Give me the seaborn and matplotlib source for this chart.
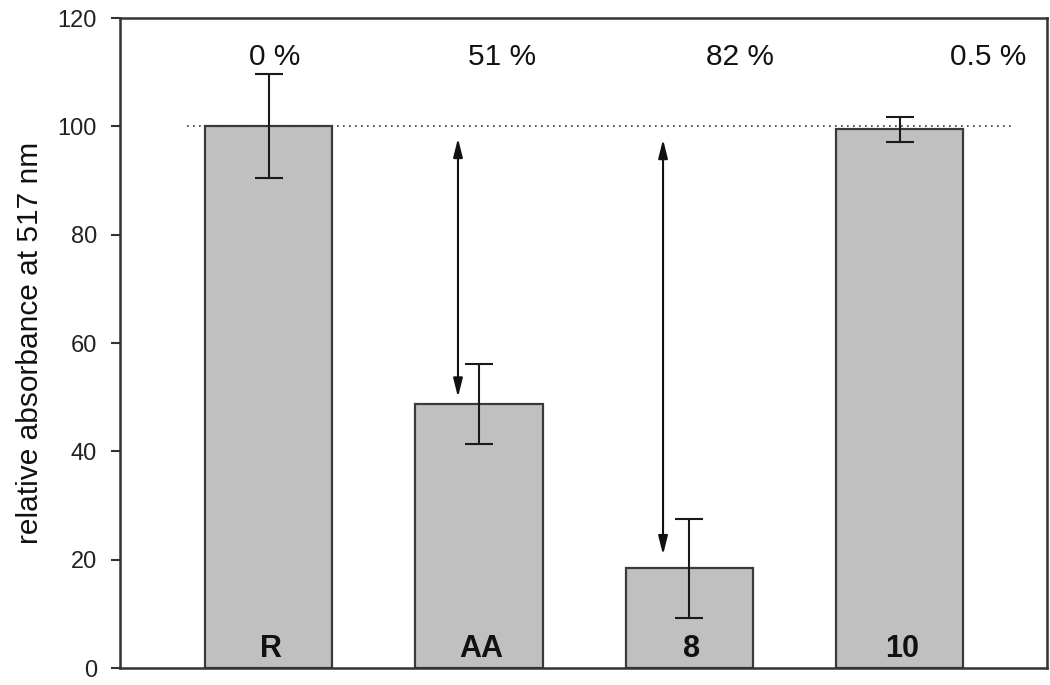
import matplotlib
matplotlib.use("Agg")
import matplotlib.pyplot as plt
import seaborn as sns
import numpy as np
import pandas as pd

# ---- data ----
categories = ["R", "AA", "8", "10"]
values = [100.0, 48.7, 18.5, 99.6]
err_upper = [109.6, 56.1, 27.5, 101.7]
err_lower = [90.4, 41.4, 9.2, 97.1]
percent_labels = ["0 %", "51 %", "82 %", "0.5 %"]
percent_x = [0.03, 1.11, 2.24, 3.42]
arrow_x = [0.90, 1.875]
arrow_top = [97.8, 97.6]
arrow_bottom = [50.0, 20.9]
ref_level = 100
yticks = [0, 20, 40, 60, 80, 100, 120]

sns.set_theme(style="white")
plt.rcParams['font.family'] = ['Liberation Sans', 'DejaVu Sans']

fig = plt.figure(figsize=(10.5, 6.85), dpi=100)
ax = fig.add_axes([0.1143, 0.0248, 0.9970 - 0.1143, 0.9737 - 0.0248])

df = pd.DataFrame({"cat": categories, "val": values})
sns.barplot(data=df, x="cat", y="val", order=categories, color="#c0c0c0",
            saturation=1, width=0.605, edgecolor="#3a3a3a", linewidth=1.6,
            errorbar=None, ax=ax)

xs = np.arange(len(categories))
vals = np.array(values)
yerr = np.array([vals - np.array(err_lower), np.array(err_upper) - vals])
ax.errorbar(xs, vals, yerr=yerr, fmt="none", ecolor="#1a1a1a", elinewidth=1.5,
            capsize=10, capthick=1.5, zorder=4)

# reference dotted line
ax.plot([-0.39, 3.53], [ref_level, ref_level], linestyle=(0, (1, 2.6)),
        color="#333333", linewidth=1.2, zorder=3)

# double-headed arrows
for xa, yt, yb in zip(arrow_x, arrow_top, arrow_bottom):
    ax.annotate("", xy=(xa, yt), xytext=(xa, yb),
                arrowprops=dict(arrowstyle="<|-|>,head_length=0.8,head_width=0.2",
                                color="#111111", lw=1.5, shrinkA=0, shrinkB=0,
                                mutation_scale=14),
                zorder=5)

# percent labels
for xp, lab in zip(percent_x, percent_labels):
    ax.text(xp, 111.3, lab, ha="center", va="baseline", fontsize=21.5,
            color="#111111")

# bar labels
for x, lab in zip(xs, categories):
    ax.text(x + 0.01, 2.0, lab, ha="center", va="baseline", fontsize=22,
            fontweight="bold", color="#111111")

ax.set_xlim(-0.707, 3.70)
ax.set_ylim(0, 120)
ax.set_yticks(yticks)
ax.set_yticklabels([str(t) for t in yticks], fontsize=17, color="#222222")
ax.set_xticks([])
ax.set_xlabel("")
ax.set_ylabel("relative absorbance at 517 nm", fontsize=21.5, color="#111111",
              labelpad=10)
ax.tick_params(axis="y", direction="out", length=6.5, width=1.5, pad=10,
               left=True, color="#333333")
for sp in ax.spines.values():
    sp.set_visible(True)
    sp.set_color("#333333")
    sp.set_linewidth(1.8)

fig.savefig("out.png", dpi=100)
